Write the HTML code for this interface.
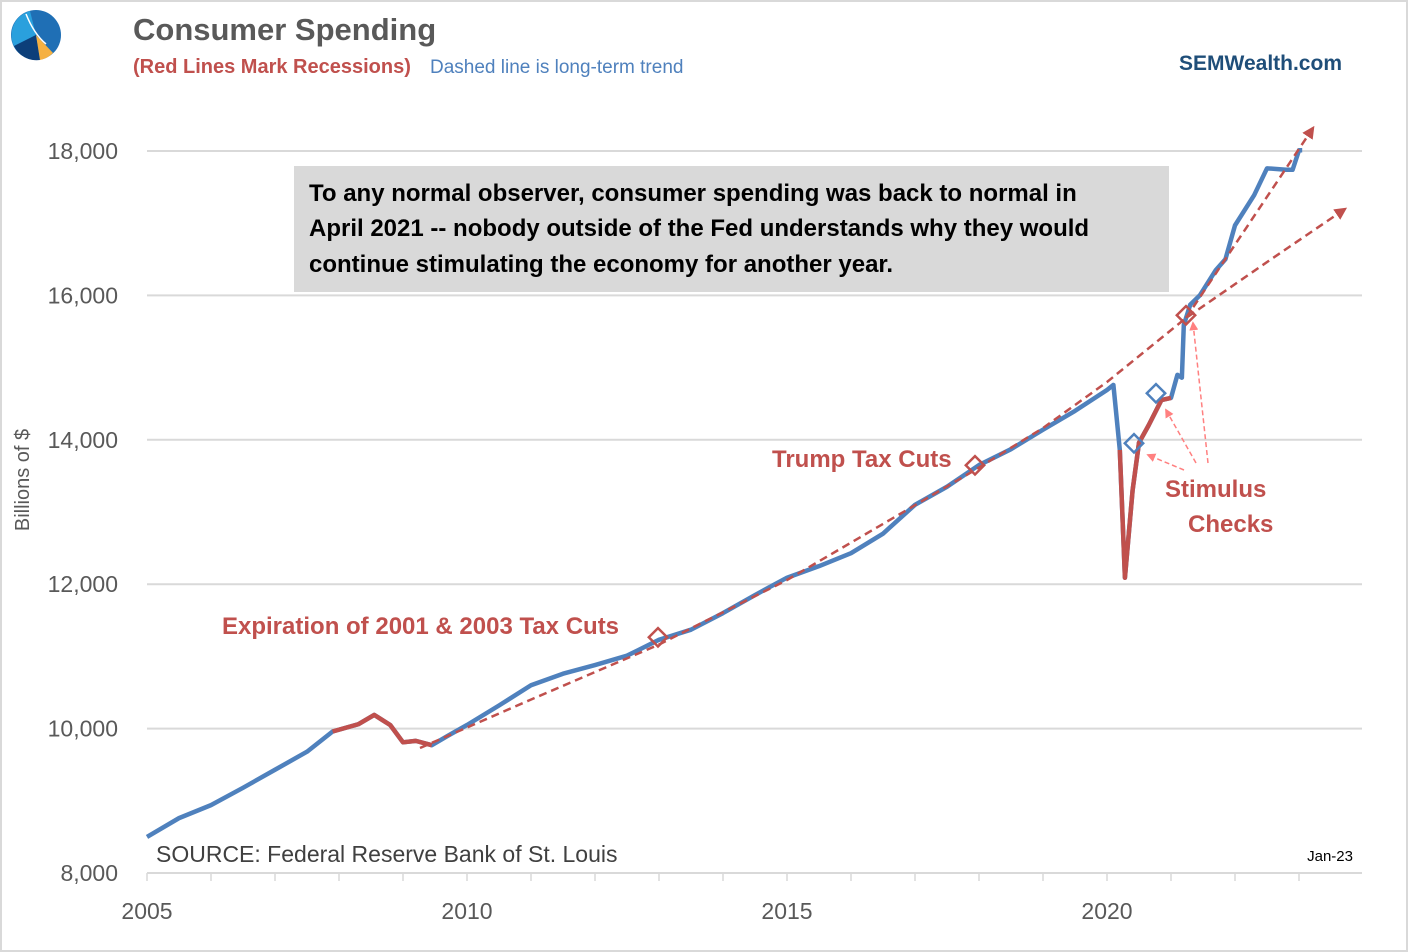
<!DOCTYPE html>
<html><head><meta charset="utf-8"><style>
body{margin:0;background:#fff;font-family:"Liberation Sans",sans-serif}
svg{display:block}
</style></head><body>
<svg width="1408" height="952" viewBox="0 0 1408 952">
<rect x="1" y="1" width="1406" height="950" fill="#fff" stroke="#d9d9d9" stroke-width="2"/>
<g>
<circle cx="36" cy="35" r="25" fill="#1f6fb5"/>
<path d="M36 35 L14 46 A25 25 0 0 1 30 11 Z" fill="#2aa0dd"/>
<path d="M36 35 L14 46 A25 25 0 0 0 40 60 Z" fill="#0c3f7a"/>
<path d="M36 35 L53 53 A25 25 0 0 1 40 60 Z" fill="#f5b041"/>
<path d="M26 14 q8 20 20 30" stroke="#fff" stroke-width="1.5" fill="none"/>
</g>
<text x="133" y="40" font-size="31" font-weight="bold" fill="#595959">Consumer Spending</text>
<text x="133" y="73" font-size="20" font-weight="bold" fill="#c0504d">(Red Lines Mark Recessions)</text>
<text x="430" y="73" font-size="19" fill="#4f81bd">Dashed line is long-term trend</text>
<text x="1342" y="70" font-size="21" font-weight="bold" fill="#1f4e79" text-anchor="end">SEMWealth.com</text>
<g id="grid"></g>
<g id="yticks"></g>
<g id="xticks"></g>
<text transform="translate(29,480) rotate(-90)" font-size="20" fill="#595959" text-anchor="middle">Billions of $</text>
<rect x="294" y="166" width="875" height="126" fill="#d9d9d9"/>
<text font-size="24" font-weight="bold" fill="#000"><tspan x="309" y="201">To any normal observer, consumer spending was back to normal in</tspan><tspan x="309" y="236">April 2021 -- nobody outside of the Fed understands why they would</tspan><tspan x="309" y="272">continue stimulating the economy for another year.</tspan></text>
<defs>
<marker id="ah" viewBox="0 0 10 10" refX="8" refY="5" markerWidth="5" markerHeight="5" orient="auto"><path d="M0 0 L10 5 L0 10 Z" fill="#c0504d"/></marker>
<marker id="ap" viewBox="0 0 10 10" refX="8" refY="5" markerWidth="6" markerHeight="6" orient="auto"><path d="M0 0 L10 5 L0 10 Z" fill="#ff8080"/></marker>
</defs>
<g id="series"></g>
<polyline points="420,748 530,700 658,645 787,580 900,514 975,470 1043,428 1107,382 1186,318 1270,260 1345,209" fill="none" stroke="#c0504d" stroke-width="2.5" stroke-dasharray="8,5" marker-end="url(#ah)"/>
<line x1="1186" y1="318" x2="1313" y2="128" stroke="#c0504d" stroke-width="2.5" stroke-dasharray="8,5" marker-end="url(#ah)"/>
<g fill="none" stroke-width="2.5">
<rect x="651" y="631" width="13" height="13" transform="rotate(45 658 638)" stroke="#c0504d"/>
<rect x="968" y="459" width="13" height="13" transform="rotate(45 975 466)" stroke="#c0504d"/>
<rect x="1179" y="309" width="13" height="13" transform="rotate(45 1186 316)" stroke="#c0504d"/>
<rect x="1127" y="437" width="13" height="13" transform="rotate(45 1134 444)" stroke="#4f81bd"/>
<rect x="1149" y="387" width="13" height="13" transform="rotate(45 1156 394)" stroke="#4f81bd"/>
</g>
<g stroke="#ff8080" stroke-width="1.5" stroke-dasharray="5,3">
<line x1="1184" y1="470" x2="1148" y2="455" marker-end="url(#ap)"/>
<line x1="1196" y1="463" x2="1166" y2="410" marker-end="url(#ap)"/>
<line x1="1208" y1="463" x2="1193" y2="323" marker-end="url(#ap)"/>
</g>
<text x="222" y="634" font-size="24" font-weight="bold" fill="#c0504d">Expiration of 2001 &amp; 2003 Tax Cuts</text>
<text x="772" y="467" font-size="24" font-weight="bold" fill="#c0504d">Trump Tax Cuts</text>
<text x="1165" y="497" font-size="24" font-weight="bold" fill="#c0504d">Stimulus</text>
<text x="1188" y="532" font-size="24" font-weight="bold" fill="#c0504d">Checks</text>
<text x="156" y="862" font-size="23" fill="#404040">SOURCE:  Federal Reserve Bank of St. Louis</text>
<text x="1353" y="861" font-size="15" fill="#000" text-anchor="end">Jan-23</text>
</svg>
<script>
const years=[2005.0,2005.5,2006.0,2006.5,2007.0,2007.5,2007.9,2008.3,2008.55,2008.8,2009.0,2009.2,2009.45,2009.7,2010.0,2010.5,2011.0,2011.5,2012.0,2012.5,2013.0,2013.5,2014.0,2014.5,2015.0,2015.5,2016.0,2016.5,2017.0,2017.5,2018.0,2018.5,2019.0,2019.5,2020.0,2020.1,2020.2,2020.28,2020.4,2020.5,2020.65,2020.85,2021.0,2021.1,2021.17,2021.2,2021.3,2021.45,2021.7,2021.85,2022.0,2022.3,2022.5,2022.8,2022.9,2023.0,2023.05];
const spending=[8500,8760,8940,9180,9430,9680,9960,10060,10190,10050,9810,9830,9770,9900,10050,10320,10600,10760,10880,11010,11230,11370,11600,11850,12090,12250,12430,12700,13100,13350,13650,13870,14140,14400,14690,14760,13860,12090,13300,13960,14200,14550,14580,14900,14860,15590,15870,16000,16350,16500,16970,17390,17760,17740,17740,18010,18010];
const recessions=[[2007.9,2009.5],[2020.15,2021.05]];
const yTicks=[8000,10000,12000,14000,16000,18000];
const xTicks=[2005,2010,2015,2020];
const X=y=>147+(y-2005)*64, Y=v=>873-(v-8000)*0.0722;
const NS="http://www.w3.org/2000/svg";
function mk(t,a,p){const e=document.createElementNS(NS,t);for(const k in a)e.setAttribute(k,a[k]);p.appendChild(e);return e;}
const grid=document.getElementById('grid'),yt=document.getElementById('yticks'),xt=document.getElementById('xticks'),ser=document.getElementById('series');
yTicks.forEach(v=>{
 if(v>8000){const l=mk('line',{x1:147,x2:1362,y1:Y(v),y2:Y(v),stroke:'#d9d9d9','stroke-width':2},grid);
 
 }
 const t=mk('text',{x:118,y:Y(v)+8,'font-size':23,fill:'#595959','text-anchor':'end'},yt);t.textContent=v.toLocaleString('en-US');
 
 
});
const ax=mk('line',{x1:147,x2:1362,y1:873,y2:873,stroke:'#d9d9d9','stroke-width':2},grid);


for(let yr=2005;yr<=2023;yr++){mk('line',{x1:X(yr),x2:X(yr),y1:873,y2:881,stroke:'#d9d9d9','stroke-width':1.5},grid);}
xTicks.forEach(yr=>{const t=mk('text',{x:X(yr),y:919,'font-size':23,fill:'#595959','text-anchor':'middle'},xt);t.textContent=yr;
 
 });
const pts=years.map((y,i)=>X(y)+','+Y(spending[i]));
const main=mk('polyline',{points:pts.join(' '),fill:'none',stroke:'#4f81bd','stroke-width':4.5,'stroke-linejoin':'round'},ser);


recessions.forEach(([a,b],k)=>{const p=[];years.forEach((y,i)=>{if(y>=a&&y<=b)p.push(X(y)+','+Y(spending[i]));});
 const r=mk('polyline',{points:p.join(' '),fill:'none',stroke:'#c0504d','stroke-width':4.5,'stroke-linejoin':'round'},ser);
 
 });
</script>
</body></html>
